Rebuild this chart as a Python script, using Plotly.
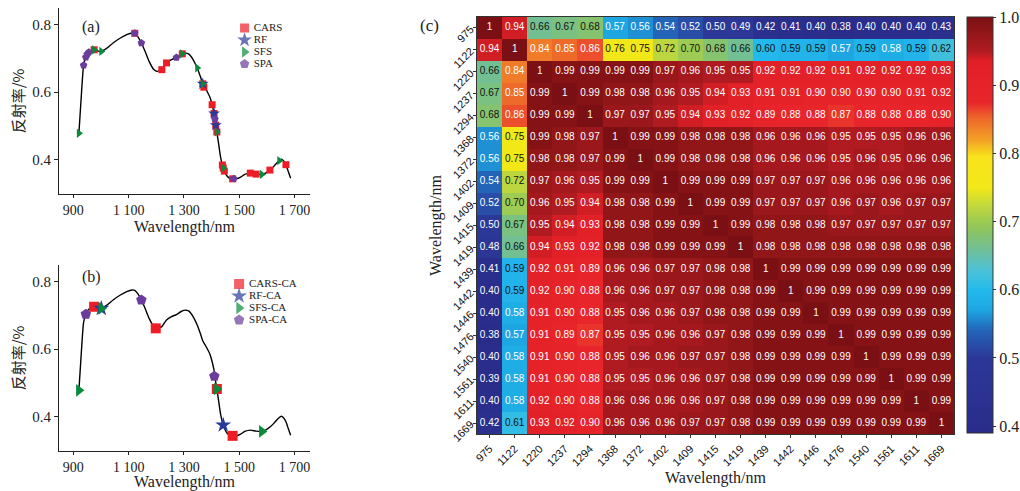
import plotly.graph_objects as go

# ---------------- spectrum data (panels a, b) ----------------
curve_nm = [920, 928, 937, 945, 950, 956, 965, 975, 990, 1001, 1020, 1045, 1070, 1095, 1112, 1122,
            1133, 1146, 1160, 1175, 1190, 1202, 1212, 1220, 1237, 1255, 1273, 1290, 1305, 1318,
            1333, 1348, 1360, 1368, 1380, 1394, 1402, 1409, 1412, 1415, 1419, 1425, 1432, 1439,
            1446, 1455, 1466, 1476, 1490, 1505, 1520, 1540, 1561, 1580, 1595, 1611, 1625, 1640,
            1652, 1660, 1669, 1678, 1686]
curve_r = [0.478, 0.580, 0.680, 0.704, 0.713, 0.719, 0.724, 0.726, 0.722, 0.721, 0.730, 0.747, 0.761,
           0.772, 0.776, 0.775, 0.765, 0.746, 0.720, 0.690, 0.668, 0.662, 0.664, 0.667, 0.687, 0.697,
           0.703, 0.712, 0.716, 0.713, 0.697, 0.672, 0.645, 0.625, 0.608, 0.585, 0.563, 0.537, 0.520,
           0.502, 0.482, 0.450, 0.410, 0.384, 0.366, 0.352, 0.344, 0.343, 0.343, 0.348, 0.356, 0.360,
           0.357, 0.356, 0.360, 0.369, 0.380, 0.394, 0.401, 0.397, 0.385, 0.363, 0.345]

# panel (a) selected wavelengths
cars_nm = [975, 1122, 1220, 1237, 1294, 1368, 1372, 1402, 1409, 1415, 1419, 1439, 1442, 1446, 1476, 1540, 1561, 1611, 1669]
cars_r = [0.726, 0.775, 0.667, 0.687, 0.714, 0.625, 0.615, 0.563, 0.537, 0.502, 0.482, 0.384, 0.375, 0.366, 0.343, 0.360, 0.357, 0.369, 0.385]
rf_nm = [1368, 1409, 1415]
rf_r = [0.625, 0.537, 0.502]
sfs_nm = [920, 975, 1001, 1294, 1348, 1368, 1419, 1442, 1582, 1645]
sfs_r = [0.478, 0.726, 0.721, 0.714, 0.672, 0.625, 0.482, 0.375, 0.356, 0.397]
spa_nm = [937, 945, 950, 956, 1122, 1146, 1273, 1412, 1480]
spa_r = [0.680, 0.704, 0.713, 0.719, 0.775, 0.746, 0.703, 0.520, 0.343]

# panel (b) selected wavelengths (CA)
cars_ca_nm = [975, 1198, 1419, 1476]
cars_ca_r = [0.726, 0.662, 0.482, 0.343]
rf_ca_nm = [1001, 1442]
rf_ca_r = [0.721, 0.375]
sfs_ca_nm = [920, 1001, 1419, 1582]
sfs_ca_r = [0.478, 0.721, 0.482, 0.356]
spa_ca_nm = [945, 1146, 1410]
spa_ca_r = [0.704, 0.746, 0.520]

spec_ticks = [900, 1100, 1300, 1500, 1700]
spec_ticktext = ["900", "1 100", "1 300", "1 500", "1 700"]
refl_ticks = [0.4, 0.6, 0.8]

# ---------------- correlation matrix (panel c) ----------------
wl_labels = ["975", "1122", "1220", "1237", "1294", "1368", "1372", "1402", "1409", "1415",
             "1419", "1439", "1442", "1446", "1476", "1540", "1561", "1611", "1669"]
r975 = [1, 0.94, 0.66, 0.67, 0.68, 0.57, 0.56, 0.54, 0.52, 0.50, 0.49, 0.42, 0.41, 0.40, 0.38, 0.40, 0.40, 0.40, 0.43]
r1122 = [0.94, 1, 0.84, 0.85, 0.86, 0.76, 0.75, 0.72, 0.70, 0.68, 0.66, 0.60, 0.59, 0.59, 0.57, 0.59, 0.58, 0.59, 0.62]
r1220 = [0.66, 0.84, 1, 0.99, 0.99, 0.99, 0.99, 0.97, 0.96, 0.95, 0.95, 0.92, 0.92, 0.92, 0.91, 0.92, 0.92, 0.92, 0.93]
r1237 = [0.67, 0.85, 0.99, 1, 0.99, 0.98, 0.98, 0.96, 0.95, 0.94, 0.93, 0.91, 0.91, 0.90, 0.90, 0.90, 0.90, 0.91, 0.92]
r1294 = [0.68, 0.86, 0.99, 0.99, 1, 0.97, 0.97, 0.95, 0.94, 0.93, 0.92, 0.89, 0.88, 0.88, 0.87, 0.88, 0.88, 0.88, 0.90]
r1368 = [0.56, 0.75, 0.99, 0.98, 0.97, 1, 0.99, 0.99, 0.98, 0.98, 0.98, 0.96, 0.96, 0.96, 0.95, 0.95, 0.95, 0.96, 0.96]
r1372 = [0.56, 0.75, 0.98, 0.98, 0.97, 0.99, 1, 0.99, 0.98, 0.98, 0.98, 0.96, 0.96, 0.96, 0.95, 0.96, 0.95, 0.96, 0.96]
r1402 = [0.54, 0.72, 0.97, 0.96, 0.95, 0.99, 0.99, 1, 0.99, 0.99, 0.99, 0.97, 0.97, 0.97, 0.96, 0.96, 0.96, 0.96, 0.96]
r1409 = [0.52, 0.70, 0.96, 0.95, 0.94, 0.98, 0.98, 0.99, 1, 0.99, 0.99, 0.97, 0.97, 0.97, 0.96, 0.97, 0.96, 0.97, 0.97]
r1415 = [0.50, 0.67, 0.95, 0.94, 0.93, 0.98, 0.98, 0.99, 0.99, 1, 0.99, 0.98, 0.98, 0.98, 0.97, 0.97, 0.97, 0.97, 0.97]
r1419 = [0.48, 0.66, 0.94, 0.93, 0.92, 0.98, 0.98, 0.99, 0.99, 0.99, 1, 0.98, 0.98, 0.98, 0.98, 0.98, 0.98, 0.98, 0.98]
r1439 = [0.41, 0.59, 0.92, 0.91, 0.89, 0.96, 0.96, 0.97, 0.97, 0.98, 0.98, 1, 0.99, 0.99, 0.99, 0.99, 0.99, 0.99, 0.99]
r1442 = [0.40, 0.59, 0.92, 0.90, 0.88, 0.96, 0.96, 0.97, 0.97, 0.98, 0.98, 0.99, 1, 0.99, 0.99, 0.99, 0.99, 0.99, 0.99]
r1446 = [0.40, 0.58, 0.91, 0.90, 0.88, 0.95, 0.96, 0.96, 0.97, 0.98, 0.98, 0.99, 0.99, 1, 0.99, 0.99, 0.99, 0.99, 0.99]
r1476 = [0.38, 0.57, 0.91, 0.89, 0.87, 0.95, 0.95, 0.96, 0.96, 0.97, 0.98, 0.99, 0.99, 0.99, 1, 0.99, 0.99, 0.99, 0.99]
r1540 = [0.40, 0.58, 0.91, 0.90, 0.88, 0.95, 0.96, 0.96, 0.97, 0.97, 0.98, 0.99, 0.99, 0.99, 0.99, 1, 0.99, 0.99, 0.99]
r1561 = [0.39, 0.58, 0.91, 0.90, 0.88, 0.95, 0.95, 0.96, 0.96, 0.97, 0.98, 0.99, 0.99, 0.99, 0.99, 0.99, 1, 0.99, 0.99]
r1611 = [0.40, 0.58, 0.92, 0.90, 0.88, 0.96, 0.96, 0.96, 0.96, 0.97, 0.98, 0.99, 0.99, 0.99, 0.99, 0.99, 0.99, 1, 0.99]
r1669 = [0.42, 0.61, 0.93, 0.92, 0.90, 0.96, 0.96, 0.96, 0.97, 0.97, 0.98, 0.99, 0.99, 0.99, 0.99, 0.99, 0.99, 0.99, 1]
corr = [r975, r1122, r1220, r1237, r1294, r1368, r1372, r1402, r1409, r1415,
        r1419, r1439, r1442, r1446, r1476, r1540, r1561, r1611, r1669]
cbar_ticks = [0.4, 0.5, 0.6, 0.7, 0.8, 0.9, 1.0]

# ---------------- styling ----------------
W, H = 1020, 491
SERIF = "Liberation Serif, Times New Roman, serif"
SANS = "Liberation Sans, Arial, sans-serif"
CJK = "Noto Sans CJK SC, sans-serif"
RED, BLUE, GREEN, PURPLE = "#EE1C25", "#2A3A9A", "#0A8A3C", "#6A3C9C"
ZMIN, ZMAX = 0.39, 1.0
N = len(wl_labels)


def px_x(a, b):
    return [a / W, b / W]


def px_y(top, bottom):
    return [1 - bottom / H, 1 - top / H]


def norm(v):
    return (v - ZMIN) / (ZMAX - ZMIN)


cscale = [
    [0.0, "#2A2C8A"], [norm(0.50), "#2C3898"], [norm(0.54), "#2364B8"], [norm(0.57), "#1EA6E2"],
    [norm(0.60), "#22BAEC"], [norm(0.63), "#4FC2D4"], [norm(0.66), "#72BF94"], [norm(0.69), "#8EC55C"],
    [norm(0.72), "#BCD640"], [norm(0.75), "#F2E818"], [norm(0.795), "#F8E31C"], [norm(0.82), "#F3A026"],
    [norm(0.85), "#EE6A2B"], [norm(0.875), "#E7262A"], [norm(0.935), "#E21F27"], [norm(0.95), "#B01B21"],
    [norm(0.975), "#951719"], [1.0, "#7A1014"],
]

fig = go.Figure()

panels = [
    dict(xa="x", ya="y", lx="x4", ly="y4", lsize=[9, 11, 10, 10], sym_sets=[
        ("CARS", cars_nm, cars_r, "square", RED, 7),
        ("RF", rf_nm, rf_r, "star", BLUE, 9),
        ("SFS", sfs_nm, sfs_r, "triangle-right", GREEN, 8),
        ("SPA", spa_nm, spa_r, "pentagon", PURPLE, 8)]),
    dict(xa="x2", ya="y2", lx="x5", ly="y5", lsize=[10, 12, 11, 11], sym_sets=[
        ("CARS-CA", cars_ca_nm, cars_ca_r, "square", RED, 10),
        ("RF-CA", rf_ca_nm, rf_ca_r, "star", BLUE, 12),
        ("SFS-CA", sfs_ca_nm, sfs_ca_r, "triangle-right", GREEN, 11),
        ("SPA-CA", spa_ca_nm, spa_ca_r, "pentagon", PURPLE, 11)]),
]

for p in panels:
    fig.add_trace(go.Scatter(x=curve_nm, y=curve_r, mode="lines", xaxis=p["xa"], yaxis=p["ya"],
                             line=dict(color="black", width=1.4, shape="spline", smoothing=0.6),
                             showlegend=False, hoverinfo="skip"))
    for name, xs, ys, sym, col, sz in p["sym_sets"]:
        fig.add_trace(go.Scatter(x=xs, y=ys, mode="markers", name=name, xaxis=p["xa"], yaxis=p["ya"],
                                 marker=dict(symbol=sym, color=col, size=sz, line=dict(width=0)),
                                 showlegend=False))
    # legend block: swatches and labels on their own small axes
    names = [s[0] for s in p["sym_sets"]]
    fig.add_trace(go.Scatter(
        x=[0] * 4, y=list(range(4)), mode="markers", xaxis=p["lx"], yaxis=p["ly"],
        marker=dict(symbol=[s[3] for s in p["sym_sets"]], color=[s[4] for s in p["sym_sets"]],
                    size=p["lsize"], line=dict(width=0)),
        showlegend=False, hoverinfo="skip", cliponaxis=False))
    fig.add_trace(go.Scatter(
        x=[0.14] * 4, y=list(range(4)), mode="text", xaxis=p["lx"], yaxis=p["ly"],
        text=names, textposition="middle right",
        textfont=dict(family=SERIF, size=11, color="#222"),
        showlegend=False, hoverinfo="skip", cliponaxis=False))

# heatmap
fig.add_trace(go.Heatmap(
    z=corr, x=wl_labels, y=wl_labels, xaxis="x3", yaxis="y3",
    colorscale=cscale, zmin=ZMIN, zmax=ZMAX, xgap=0, ygap=0,
    colorbar=dict(x=967 / W, xanchor="left", y=1 - 225 / H, yanchor="middle",
                  lenmode="pixels", len=416, thickness=26, xpad=0, ypad=0,
                  outlinewidth=1, outlinecolor="#333",
                  tickvals=cbar_ticks, ticktext=[f"{v:.1f}" for v in cbar_ticks],
                  ticks="outside", ticklen=3, tickcolor="#333",
                  tickfont=dict(family=SERIF, size=16, color="#222")),
    hoverinfo="skip"))

# cell labels
wx, wy, wt, bx, by, bt = [], [], [], [], [], []
for i, row in enumerate(corr):
    for j, v in enumerate(row):
        txt = "1" if v >= 1 else f"{v:.2f}"
        if 0.585 < v < 0.80:
            bx.append(wl_labels[j]); by.append(wl_labels[i]); bt.append(txt)
        else:
            wx.append(wl_labels[j]); wy.append(wl_labels[i]); wt.append(txt)
for xs, ys, ts, col in [(wx, wy, wt, "white"), (bx, by, bt, "#111")]:
    fig.add_trace(go.Scatter(x=xs, y=ys, text=ts, mode="text", xaxis="x3", yaxis="y3",
                             textfont=dict(family=SANS, size=10, color=col),
                             showlegend=False, hoverinfo="skip"))

spec_x = dict(range=[848, 1756], tickvals=spec_ticks, ticktext=spec_ticktext, showgrid=False,
              zeroline=False, showline=True, linecolor="#222", linewidth=1, ticks="outside",
              ticklen=3, tickcolor="#222", tickfont=dict(family=SERIF, size=14, color="#222"),
              title=dict(text="Wavelength/nm", font=dict(family=SERIF, size=16, color="#222"), standoff=0))
spec_y = dict(range=[0.298, 0.85], tickvals=refl_ticks, ticktext=["0.4", "0.6", "0.8"], showgrid=False,
              zeroline=False, showline=True, linecolor="#222", linewidth=1, ticks="outside",
              ticklen=4, tickcolor="#222", tickfont=dict(family=SERIF, size=15, color="#222"),
              title=dict(text="反射率/%", font=dict(family=CJK, size=15, color="#222"), standoff=4))

hide = dict(visible=False, showgrid=False, zeroline=False, fixedrange=True)

fig.update_layout(
    width=W, height=H, margin=dict(l=0, r=0, t=0, b=0, autoexpand=False),
    paper_bgcolor="white", plot_bgcolor="rgba(0,0,0,0)", showlegend=False,
    xaxis=dict(domain=px_x(59, 310), anchor="y", **spec_x),
    yaxis=dict(domain=px_y(8, 194), anchor="x", **spec_y),
    xaxis2=dict(domain=px_x(59, 310), anchor="y2", **spec_x),
    yaxis2=dict(domain=px_y(265, 451), anchor="x2", **spec_y),
    xaxis3=dict(domain=px_x(477, 954), anchor="y3", type="category", categoryorder="array",
                categoryarray=wl_labels, range=[-0.5, N - 0.5], tickangle=-45, showgrid=False,
                zeroline=False, showline=True, mirror=True, linecolor="#333", linewidth=1,
                ticks="outside", ticklen=3, tickcolor="#333",
                tickfont=dict(family=SANS, size=11, color="#111"),
                title=dict(text="Wavelength/nm", font=dict(family=SERIF, size=16, color="#222"), standoff=4)),
    yaxis3=dict(domain=px_y(17, 434), anchor="x3", type="category", categoryorder="array",
                categoryarray=wl_labels, range=[N - 0.5, -0.5], tickangle=-45, showgrid=False,
                zeroline=False, showline=True, mirror=True, linecolor="#333", linewidth=1,
                ticks="outside", ticklen=3, tickcolor="#333",
                tickfont=dict(family=SANS, size=11, color="#111"),
                title=dict(text="Wavelength/nm", font=dict(family=SERIF, size=16, color="#222"), standoff=4)),
    xaxis4=dict(domain=px_x(238, 310), anchor="y4", range=[-0.1, 1], **hide),
    yaxis4=dict(domain=px_y(22, 70), anchor="x4", range=[3.5, -0.5], **hide),
    xaxis5=dict(domain=px_x(232, 310), anchor="y5", range=[-0.1, 1], **hide),
    yaxis5=dict(domain=px_y(278, 326), anchor="x5", range=[3.5, -0.5], **hide),
    annotations=[
        dict(text="(a)", x=80 / W, y=1 - 27 / H, xref="paper", yref="paper", xanchor="left",
             yanchor="middle", showarrow=False, font=dict(family=SERIF, size=16, color="#222")),
        dict(text="(b)", x=80 / W, y=1 - 277 / H, xref="paper", yref="paper", xanchor="left",
             yanchor="middle", showarrow=False, font=dict(family=SERIF, size=16, color="#222")),
        dict(text="(c)", x=418 / W, y=1 - 25 / H, xref="paper", yref="paper", xanchor="left",
             yanchor="middle", showarrow=False, font=dict(family=SERIF, size=17, color="#222")),
    ],
)

fig.write_html("out.html", config={"displayModeBar": False},
               post_script="document.body.style.margin='0px';")
